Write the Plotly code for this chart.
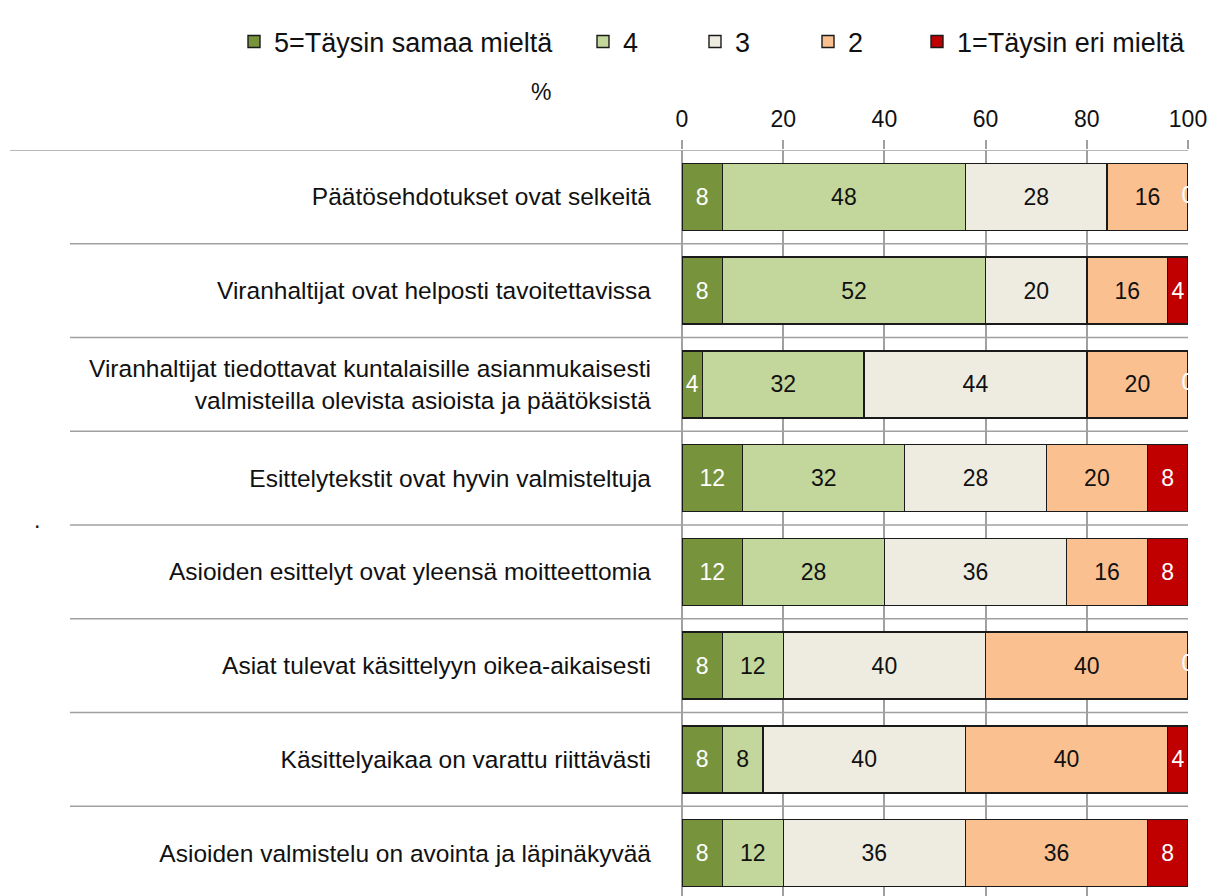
import plotly.graph_objects as go

categories = [
    "Päätösehdotukset ovat selkeitä",
    "Viranhaltijat ovat helposti tavoitettavissa",
    "Viranhaltijat tiedottavat kuntalaisille asianmukaisesti<br>valmisteilla olevista asioista ja päätöksistä",
    "Esittelytekstit ovat hyvin valmisteltuja",
    "Asioiden esittelyt ovat yleensä moitteettomia",
    "Asiat tulevat käsittelyyn oikea-aikaisesti",
    "Käsittelyaikaa on varattu riittävästi",
    "Asioiden valmistelu on avointa ja läpinäkyvää",
]
series_names = ["5=Täysin samaa mieltä", "4", "3", "2", "1=Täysin eri mieltä"]
v5 = [8, 8, 4, 12, 12, 8, 8, 8]
v4 = [48, 52, 32, 32, 28, 12, 8, 12]
v3 = [28, 20, 44, 28, 36, 40, 40, 36]
v2 = [16, 16, 20, 20, 16, 40, 40, 36]
v1 = [0, 4, 0, 8, 8, 0, 4, 8]
x_ticks = [0, 20, 40, 60, 80, 100]

series_values = [v5, v4, v3, v2, v1]
colors = ["#77933C", "#C3D69B", "#EEECE1", "#FAC090", "#C00000"]
text_colors = ["white", "#111111", "#111111", "#111111", "white"]

FONT = "Liberation Sans"
W, H = 1210, 896
L, R, T, B = 682, 22, 150, 0
pw = W - L - R
ph = H - T - B

fig = go.Figure()
legend_text_starts = [275, 624, 736, 849, 958]
for i, (name, vals) in enumerate(zip(series_names, series_values)):
    lg = "legend" if i == 0 else f"legend{i+1}"
    fig.add_trace(go.Bar(
        y=categories, x=vals, name=name, orientation="h",
        marker=dict(color=colors[i], line=dict(color="#1a1a1a", width=1.4)),
        text=[str(v) if v else "" for v in vals],
        textposition="inside", insidetextanchor="middle", textangle=0,
        constraintext="none",
        textfont=dict(color=text_colors[i], size=23, family=FONT),
        legend=lg, hoverinfo="x+name",
    ))

# zero-value labels (shown at the end of the stack, like the original)
zx, zy = [], []
for j, cat in enumerate(categories):
    if v1[j] == 0:
        zx.append(v5[j] + v4[j] + v3[j] + v2[j])
        zy.append(cat)
fig.add_trace(go.Scatter(
    x=zx, y=zy, mode="text", text=["0"] * len(zx),
    textfont=dict(color="white", size=23, family=FONT),
    showlegend=False, cliponaxis=True, hoverinfo="skip",
))

layout_legends = {}
for i in range(5):
    key = "legend" if i == 0 else f"legend{i+1}"
    layout_legends[key] = dict(
        x=(legend_text_starts[i] - 41) / W, xref="container", xanchor="left",
        y=1 - 42 / H, yref="container", yanchor="middle",
        orientation="h", bgcolor="rgba(0,0,0,0)", borderwidth=0,
        font=dict(size=27, family=FONT, color="#111111"),
    )

shapes = []
n = len(categories)
for k in range(n):
    x0 = (10 - L) / pw if k == 0 else (70 - L) / pw
    shapes.append(dict(type="line", xref="paper", yref="y", x0=x0, x1=1,
                       y0=k - 0.5, y1=k - 0.5,
                       line=dict(color="#A0A0A0", width=1.5), layer="below"))

fig.update_layout(
    width=W, height=H, barmode="stack", bargap=0.285,
    margin=dict(l=L, r=R, t=T, b=B, autoexpand=False),
    paper_bgcolor="white", plot_bgcolor="white",
    font=dict(family=FONT, size=23, color="#111111"),
    shapes=shapes,
    annotations=[
        dict(text="%", x=(541 - L) / pw, y=1 + (T - 92) / ph, xref="paper", yref="paper",
             xanchor="center", yanchor="middle",
             showarrow=False, font=dict(size=23, family=FONT, color="#111111")),
        dict(text=".", x=(37 - L) / pw, y=1 - (520 - T) / ph, xref="paper", yref="paper",
             xanchor="center", yanchor="middle",
             showarrow=False, font=dict(size=23, family=FONT, color="#111111")),
    ],
    **layout_legends,
)
fig.update_xaxes(
    side="top", range=[0, 100], tickvals=x_ticks, ticktext=[str(t) for t in x_ticks],
    showgrid=True, gridcolor="#A0A0A0", gridwidth=1.5,
    zeroline=True, zerolinecolor="#A0A0A0", zerolinewidth=1.5,
    ticks="outside", ticklen=9, tickcolor="#A0A0A0", tickwidth=1.5,
    ticklabelstandoff=4,
    tickfont=dict(size=23, family=FONT, color="#111111"),
    showline=False, fixedrange=True,
)
fig.update_yaxes(
    type="category", categoryorder="array", categoryarray=categories,
    range=[7.5 - (900 - 896) / 93.7, -0.5], showgrid=False, zeroline=False, showline=False,
    ticks="", ticklabelstandoff=30,
    tickfont=dict(size=24.5, family=FONT, color="#111111"),
    fixedrange=True,
)
fig.write_html(
    "out.html",
    config={"displayModeBar": False},
    post_script="document.body.style.margin='0';document.body.style.overflow='hidden';",
)
